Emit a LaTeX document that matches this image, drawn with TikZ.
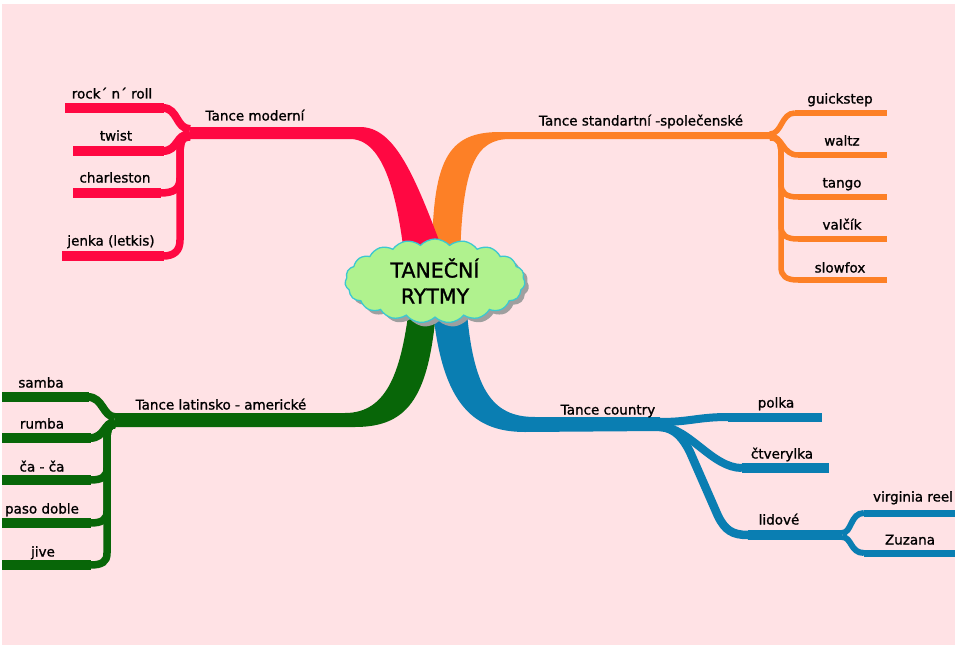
\documentclass[tikz,border=0pt]{standalone}
\usepackage{fontspec}
\setmainfont[FakeBold=1.2]{DejaVu Sans}
\usetikzlibrary{shapes.symbols,shadows}
\definecolor{bgpink}{RGB}{255,226,229}
\definecolor{redc}{RGB}{255,8,66}
\definecolor{orangec}{RGB}{253,128,38}
\definecolor{greenc}{RGB}{8,102,8}
\definecolor{bluec}{RGB}{10,126,178}
\definecolor{cloudfill}{RGB}{176,242,142}
\definecolor{cloudedge}{RGB}{60,200,208}
\tikzset{
  lbl/.style={font=\fontsize{13.5}{15}\selectfont, inner sep=0pt, text height=10pt, text depth=1pt},
  twig/.style={line width=#1, line cap=butt},
}
\begin{document}
\begin{tikzpicture}[x=1pt,y=-1pt]
\useasboundingbox (0,0) rectangle (960,650);
\fill[white] (0,0) rectangle (960,650);
\fill[bgpink] (2,4) rectangle (955,645);

% named coordinates (junctions and ends)
\coordinate (J1) at (190,132);
\coordinate (J2) at (770,135);
\coordinate (J3) at (115,420);
\coordinate (J4) at (660,424);
\coordinate (J5) at (842,535);

% ---- main branches (tapered) ----
\fill[orangec] (432,262) .. controls (432,160) and (447,132) .. (500,132) -- (J2 |- 0,132) -- (J2 |- 0,139) -- (510,139) .. controls (476,139) and (462,165) .. (460,262) -- cycle;
\fill[redc] (J1 |- 0,127) -- (360,127) .. controls (395,127) and (415,175) .. (447,262) -- (405,262) .. controls (398,200) and (385,139) .. (350,139) -- (J1 |- 0,139) -- cycle;
\fill[greenc] (J3 |- 0,413) -- (345,413) .. controls (388,413) and (402,370) .. (410,300) -- (437,300) .. controls (430,395) and (410,427) .. (355,427) -- (J3 |- 0,427) -- cycle;
\fill[bluec] (432,300) .. controls (440,400) and (470,432) .. (525,432) -- (J4 |- 0,431) -- (J4 |- 0,417) -- (535,417) .. controls (492,417) and (472,390) .. (466,300) -- cycle;

% ---- red children ----
\begin{scope}[redc]
\draw[twig=8pt] (190,129) .. controls (176,129) and (178,108) .. (163,108);
\draw[twig=10pt] (163.5,108) -- (65,108);
\draw[twig=8pt] (190,134) .. controls (176,134) and (178,151) .. (163,151);
\draw[twig=10pt] (163.5,151) -- (73,151);
\draw[twig=7.5pt] (190,136) .. controls (181,136) and (180,142) .. (180,156) -- (180,178) .. controls (180,189) and (174,193) .. (160,193);
\draw[twig=10pt] (160.5,193) -- (73,193);
\draw[twig=7.5pt] (190,137) .. controls (181,137) and (180,143) .. (180,157) -- (180,240) .. controls (180,251) and (174,256) .. (163,256);
\draw[twig=10pt] (163.5,256) -- (62,256);
\end{scope}

% ---- orange children ----
\begin{scope}[orangec]
\draw[twig=5.5pt] (770,134) .. controls (782,134) and (781,113) .. (795,113);
\draw[twig=6.5pt] (794.5,113) -- (887,113);
\draw[twig=5.5pt] (770,136) .. controls (783,136) and (782,155) .. (798,155);
\draw[twig=6.5pt] (797.5,155) -- (887,155);
\draw[twig=5.5pt] (770,137) .. controls (779,137) and (781,143) .. (781,155) -- (781,184) .. controls (781,193) and (786,197) .. (798,197);
\draw[twig=6.5pt] (797.5,197) -- (887,197);
\draw[twig=5.5pt] (770,137) .. controls (779,137) and (781,143) .. (781,155) -- (781,226) .. controls (781,235) and (786,239) .. (798,239);
\draw[twig=6.5pt] (797.5,239) -- (887,239);
\draw[twig=5.5pt] (770,138) .. controls (779,138) and (781,143) .. (781,155) -- (781,267) .. controls (781,276) and (786,280) .. (798,280);
\draw[twig=6.5pt] (797.5,280) -- (887,280);
\end{scope}

% ---- green children ----
\begin{scope}[greenc]
\draw[twig=8pt] (115,417) .. controls (103,417) and (103,397) .. (88,397);
\draw[twig=10pt] (88.5,397) -- (2,397);
\draw[twig=8pt] (115,422) .. controls (104,422) and (105,438) .. (90,438);
\draw[twig=10pt] (90.5,438) -- (2,438);
\draw[twig=7.5pt] (115,424) .. controls (108,424) and (107,430) .. (107,442) -- (107,468) .. controls (107,477) and (102,480) .. (90,480);
\draw[twig=10pt] (90.5,480) -- (2,480);
\draw[twig=7.5pt] (115,424) .. controls (108,424) and (107,430) .. (107,442) -- (107,511) .. controls (107,520) and (102,523) .. (90,523);
\draw[twig=10pt] (90.5,523) -- (2,523);
\draw[twig=7.5pt] (115,425) .. controls (108,425) and (107,430) .. (107,442) -- (107,553) .. controls (107,562) and (102,565) .. (90,565);
\draw[twig=10pt] (90.5,565) -- (2,565);
\end{scope}

% ---- blue children ----
\begin{scope}[bluec]
\draw[twig=8pt] (660,422) .. controls (690,422) and (698,417) .. (728,417);
\draw[twig=9pt] (727.5,417) -- (822,417);
\draw[twig=8pt] (660,426) .. controls (690,428) and (712,468) .. (742,468);
\draw[twig=9.5pt] (741.5,468) -- (829,468);
\draw[twig=8.5pt] (660,427) .. controls (675,428) and (683,438) .. (690,452) -- (718,516) .. controls (725,530) and (732,535) .. (748,535);
\draw[twig=10pt] (747.5,535) -- (J5);
\draw[twig=6pt] (842,533) .. controls (852,533) and (850,513) .. (864,513);
\draw[twig=7pt] (863.5,513) -- (955,513);
\draw[twig=6pt] (842,537) .. controls (852,537) and (850,553) .. (864,553);
\draw[twig=7pt] (863.5,553) -- (955,553);
\end{scope}

% ---- central cloud ----
\node[cloud, cloud puffs=19, cloud puff arc=95, cloud ignores aspect,
      minimum width=180pt, minimum height=84pt, inner sep=0pt,
      draw=cloudedge, line width=1.3pt, fill=cloudfill,
      drop shadow={shadow xshift=4pt, shadow yshift=-4pt, fill=gray!75, opacity=1},
      align=center, font=\fontsize{20.5}{26}\selectfont] (center) at (435,281) {TANEČNÍ\\RYTMY};

% ---- labels ----
\node[lbl] (moderni) at (255,116) {Tance moderní};
\node[lbl] (rock) at (112,94) {rock´ n´ roll};
\node[lbl] (twist) at (116,136) {twist};
\node[lbl] (charleston) at (115,178) {charleston};
\node[lbl] (jenka) at (111,241) {jenka (letkis)};

\node[lbl] (standard) at (641,121) {Tance standartní -společenské};
\node[lbl] (guick) at (840,99) {guickstep};
\node[lbl] (waltz) at (842,141) {waltz};
\node[lbl] (tango) at (842,183) {tango};
\node[lbl] (valcik) at (842,225) {valčík};
\node[lbl] (slowfox) at (840,268) {slowfox};

\node[lbl] (latin) at (221,405) {Tance latinsko - americké};
\node[lbl] (samba) at (41,383) {samba};
\node[lbl] (rumba) at (42,424) {rumba};
\node[lbl] (caca) at (42,467) {ča - ča};
\node[lbl] (paso) at (42,509) {paso doble};
\node[lbl] (jive) at (43,552) {jive};

\node[lbl] (country) at (608,410) {Tance country};
\node[lbl] (polka) at (776,403) {polka};
\node[lbl] (ctver) at (782,454) {čtverylka};
\node[lbl] (lidove) at (779,520) {lidové};
\node[lbl] (virginia) at (913,497) {virginia reel};
\node[lbl] (zuzana) at (910,540) {Zuzana};
\end{tikzpicture}
\end{document}
